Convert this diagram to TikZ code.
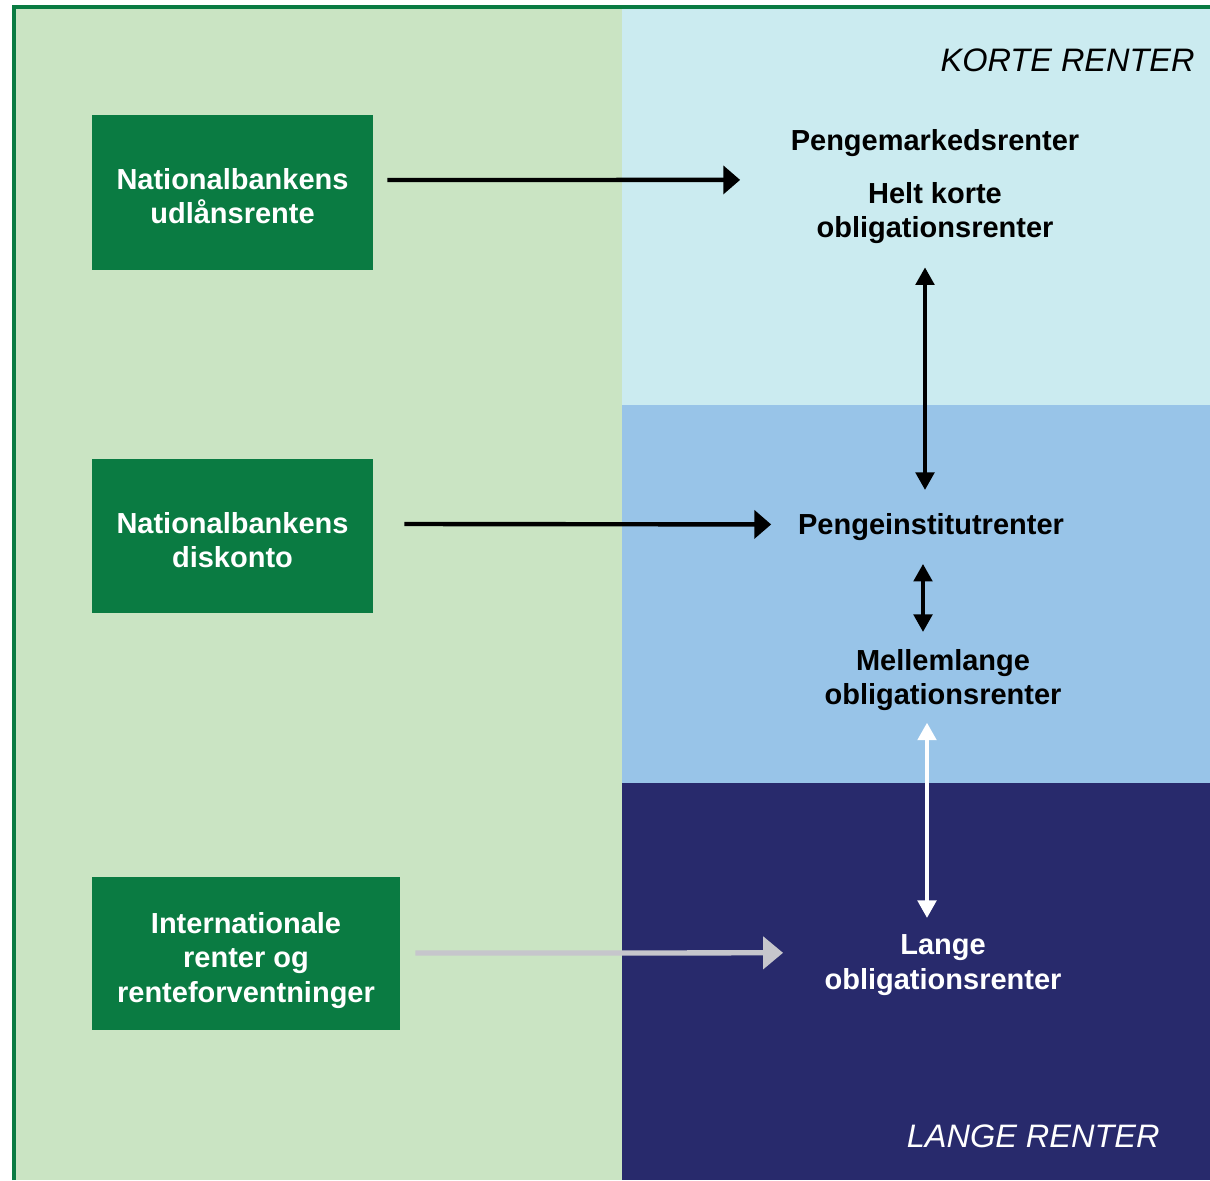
\documentclass[tikz,border=0pt]{standalone}
\usepackage{fontspec}
\setmainfont{Liberation Sans}
\usetikzlibrary{calc, positioning, arrows.meta}
\definecolor{dgreen}{HTML}{0A7B42}
\definecolor{lgreen}{HTML}{CAE4C3}
\definecolor{lblue}{HTML}{CBEBF0}
\definecolor{mblue}{HTML}{98C4E8}
\definecolor{navy}{HTML}{282A6C}
\definecolor{agray}{HTML}{C6C6CC}
\tikzstyle{Box}=[fill=dgreen, text=white, font=\bfseries\fontsize{16.5}{19.5}\selectfont, align=center, minimum width=5.62cm, minimum height=3.1cm, inner sep=0pt]
\tikzstyle{Rate}=[font=\bfseries\fontsize{16.5}{19.5}\selectfont, align=center, inner sep=0pt, anchor=north]
\tikzstyle{Head}=[font=\itshape\fontsize{18.5}{22}\selectfont, inner sep=0pt, anchor=base east]
\tikzstyle{Harrow}=[line width=2.5pt, -{Triangle[length=9.6pt, width=15.9pt]}]
\tikzstyle{Varrow}=[line width=2.4pt, {Triangle[length=10pt, width=10.4pt]}-{Triangle[length=10pt, width=10.4pt]}]

\begin{document}
\begin{tikzpicture}[x=0.02cm, y=-0.02cm]
	\useasboundingbox (0, 0) rectangle (1210, 1180);
	\fill[lgreen] (14, 7) rectangle (622, 1180);
	\fill[lblue] (622, 7) rectangle (1210, 405);
	\fill[mblue] (622, 405) rectangle (1210, 783);
	\fill[navy] (622, 783) rectangle (1210, 1180);
	\draw[dgreen, line width=2.6pt] (14, 1180) -- (14, 6.8) -- (1210, 6.8);

	\node[Box] (ud) at (232.5, 192.5) {\rule{0pt}{16.4pt}Nationalbankens\\udlånsrente};
	\node[Box] (disk) at (232.5, 536) {\rule{0pt}{16.4pt}Nationalbankens\\diskonto};
	\node[Box, minimum width=6.16cm, minimum height=3.06cm] (int) at (246, 953.5) {\rule{0pt}{19.8pt}Internationale\\renter og\\renteforventninger};

	\node[Head] (kr) at (1195, 71) {KORTE RENTER};
	\node[Head, text=white] (lr) at (1160, 1147) {LANGE RENTER};

	\node[Rate] (kort) at (935, 129.5) {Pengemarkedsrenter\\[10.5pt]Helt korte\\obligationsrenter};
	\node[Rate] (inst) at (931, 513) {Pengeinstitutrenter};
	\node[Rate] (mell) at (943, 649) {Mellemlange\\obligationsrenter};
	\node[Rate, text=white] (lang) at (943, 934.5) {Lange\\obligationsrenter};

	\draw[Harrow] ($(ud.east)+(14, -12.5)$) -- ($(kort.west)+(-50.3, -7)$);
	\draw[Harrow] ($(disk.east)+(31, -12)$) -- ($(inst.west)+(-26.6, -2.5)$);
	\draw[Harrow, agray, line width=3pt, -{Triangle[length=11.3pt, width=18pt]}] ($(int.east)+(15, -0.5)$) -- ($(lang.west)+(-41.2, -12.2)$);
	\draw[Varrow] ($(kort.south)+(-10, 23)$) -- ($(inst.north)+(-6, -23)$);
	\draw[Varrow] ($(inst.south)+(-8, 23)$) -- ($(mell.north)+(-20, -17)$);
	\draw[Varrow, white] ($(mell.south)+(-16, 11.5)$) -- ($(lang.north)+(-16, -16.5)$);
\end{tikzpicture}
\end{document}
